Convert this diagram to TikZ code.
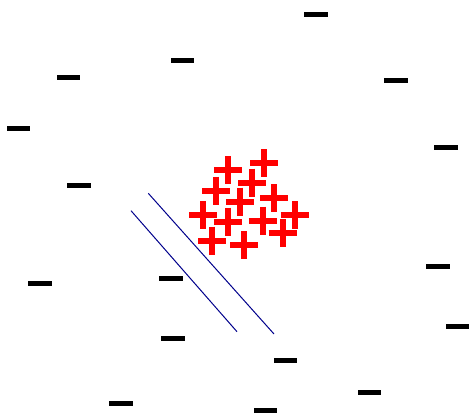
\documentclass[tikz,border=0pt]{standalone}
\begin{document}
\begin{tikzpicture}[x=1pt,y=-1pt,line width=0.35pt]
  \useasboundingbox[fill=white] (0,0) rectangle (469,418);
  % negative samples
  \foreach \x/\y in {316/14.5,182.7/60.3,68.7/77.3,396/80.7,18.3/128.7,446/147,
    79/185.7,40/283.3,171/278,438/266.7,458/326.3,173/338.7,285.3/360.3,
    369.7/392.3,121/403.3,265.7/410.3}{
    \fill[black] (\x-11.7,\y-2.5) rectangle (\x+11.7,\y+2.5);}
  % positive samples
  \foreach \x/\y in {264/163.3,228/170,252.3/182.7,216/190.7,240/201.7,274/198.3,
    203.3/215,228/221.7,262.7/220.7,294.7/215,282.7/233.3,212/240.7,244/245}{
    \draw[red,line width=6pt] (\x-14,\y) -- (\x+14,\y) (\x,\y-14) -- (\x,\y+14);}
  % margin lines
  \draw[blue!55!black,line width=1pt] (148.3,193.3) -- (274,334);
  \draw[blue!55!black,line width=1pt] (131,210.7) -- (237,331.7);
\end{tikzpicture}
\end{document}
